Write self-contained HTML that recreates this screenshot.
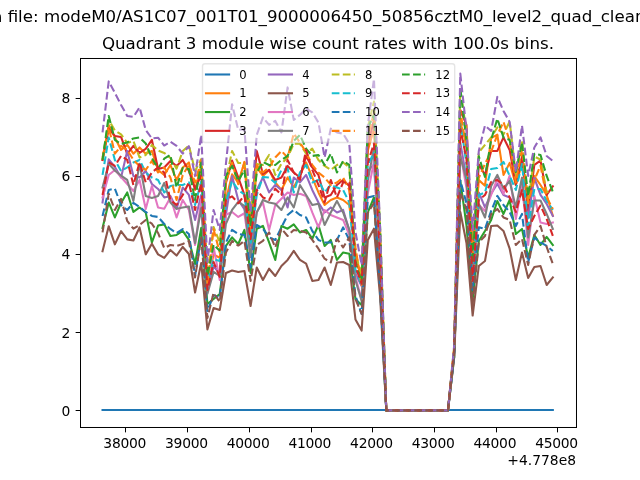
<!DOCTYPE html>
<html><head><meta charset="utf-8"><title>plot</title>
<style>html,body{margin:0;padding:0;background:#fff;overflow:hidden}svg{display:block;will-change:transform;opacity:0.999}svg *{stroke-linejoin:round;stroke-linecap:butt}</style>
</head><body>
<svg  width="640" height="480" viewBox="0 0 460.8 345.6"  version="1.1">
 
 
 <g id="figure_1">
  <g id="patch_1">
   <path d="M 0 345.6 
L 460.8 345.6 
L 460.8 0 
L 0 0 
z
" style="fill: #ffffff"/>
  </g>
  <g id="axes_1">
   <g id="patch_2">
    <path d="M 57.6 307.584 
L 414.72 307.584 
L 414.72 41.472 
L 57.6 41.472 
z
" style="fill: #ffffff"/>
   </g>
   <g id="matplotlib.axis_1">
    <g id="xtick_1">
     <g id="line2d_1">
      
      <g>
       <path d="M 0 0 L 0 3.5" transform="translate(90.3600 307.8000)" style="stroke: #000000; stroke-width: 0.72"/>
      </g>
     </g>
     <g id="text_1">
      <text style="font-size: 10px; font-family: 'DejaVu Sans', 'Liberation Sans', sans-serif; text-anchor: middle; letter-spacing: -0.2px" x="89.8041" y="322.9024">38000</text>
     </g>
    </g>
    <g id="xtick_2">
     <g id="line2d_2">
      <g>
       <path d="M 0 0 L 0 3.5" transform="translate(135.0000 307.8000)" style="stroke: #000000; stroke-width: 0.72"/>
      </g>
     </g>
     <g id="text_2">
      <text style="font-size: 10px; font-family: 'DejaVu Sans', 'Liberation Sans', sans-serif; text-anchor: middle; letter-spacing: -0.2px" x="134.2165" y="322.9024">39000</text>
     </g>
    </g>
    <g id="xtick_3">
     <g id="line2d_3">
      <g>
       <path d="M 0 0 L 0 3.5" transform="translate(179.6400 307.8000)" style="stroke: #000000; stroke-width: 0.72"/>
      </g>
     </g>
     <g id="text_3">
      <text style="font-size: 10px; font-family: 'DejaVu Sans', 'Liberation Sans', sans-serif; text-anchor: middle; letter-spacing: -0.2px" x="178.6289" y="322.9024">40000</text>
     </g>
    </g>
    <g id="xtick_4">
     <g id="line2d_4">
      <g>
       <path d="M 0 0 L 0 3.5" transform="translate(224.2800 307.8000)" style="stroke: #000000; stroke-width: 0.72"/>
      </g>
     </g>
     <g id="text_4">
      <text style="font-size: 10px; font-family: 'DejaVu Sans', 'Liberation Sans', sans-serif; text-anchor: middle; letter-spacing: -0.2px" x="223.0413" y="322.9024">41000</text>
     </g>
    </g>
    <g id="xtick_5">
     <g id="line2d_5">
      <g>
       <path d="M 0 0 L 0 3.5" transform="translate(268.2000 307.8000)" style="stroke: #000000; stroke-width: 0.72"/>
      </g>
     </g>
     <g id="text_5">
      <text style="font-size: 10px; font-family: 'DejaVu Sans', 'Liberation Sans', sans-serif; text-anchor: middle; letter-spacing: -0.2px" x="267.4537" y="322.9024">42000</text>
     </g>
    </g>
    <g id="xtick_6">
     <g id="line2d_6">
      <g>
       <path d="M 0 0 L 0 3.5" transform="translate(312.8400 307.8000)" style="stroke: #000000; stroke-width: 0.72"/>
      </g>
     </g>
     <g id="text_6">
      <text style="font-size: 10px; font-family: 'DejaVu Sans', 'Liberation Sans', sans-serif; text-anchor: middle; letter-spacing: -0.2px" x="311.8661" y="322.9024">43000</text>
     </g>
    </g>
    <g id="xtick_7">
     <g id="line2d_7">
      <g>
       <path d="M 0 0 L 0 3.5" transform="translate(357.4800 307.8000)" style="stroke: #000000; stroke-width: 0.72"/>
      </g>
     </g>
     <g id="text_7">
      <text style="font-size: 10px; font-family: 'DejaVu Sans', 'Liberation Sans', sans-serif; text-anchor: middle; letter-spacing: -0.2px" x="356.2785" y="322.9024">44000</text>
     </g>
    </g>
    <g id="xtick_8">
     <g id="line2d_8">
      <g>
       <path d="M 0 0 L 0 3.5" transform="translate(401.4000 307.8000)" style="stroke: #000000; stroke-width: 0.72"/>
      </g>
     </g>
     <g id="text_8">
      <text style="font-size: 10px; font-family: 'DejaVu Sans', 'Liberation Sans', sans-serif; text-anchor: middle; letter-spacing: -0.2px" x="400.6908" y="322.9024">45000</text>
     </g>
    </g>
    <g id="text_9">
     <text style="font-size: 10px; font-family: 'DejaVu Sans', 'Liberation Sans', sans-serif; text-anchor: end" x="414.72" y="334.860562">+4.778e8</text>
    </g>
   </g>
   <g id="matplotlib.axis_2">
    <g id="ytick_1">
     <g id="line2d_9">
      
      <g>
       <path d="M 0 0 L -3.5 0" transform="translate(57.9600 295.5600)" style="stroke: #000000; stroke-width: 0.72"/>
      </g>
     </g>
     <g id="text_10">
      <text style="font-size: 10px; font-family: 'DejaVu Sans', 'Liberation Sans', sans-serif; text-anchor: end" x="50.6" y="299.287219">0</text>
     </g>
    </g>
    <g id="ytick_2">
     <g id="line2d_10">
      <g>
       <path d="M 0 0 L -3.5 0" transform="translate(57.9600 239.4000)" style="stroke: #000000; stroke-width: 0.72"/>
      </g>
     </g>
     <g id="text_11">
      <text style="font-size: 10px; font-family: 'DejaVu Sans', 'Liberation Sans', sans-serif; text-anchor: end" x="50.6" y="243.026754">2</text>
     </g>
    </g>
    <g id="ytick_3">
     <g id="line2d_11">
      <g>
       <path d="M 0 0 L -3.5 0" transform="translate(57.9600 183.2400)" style="stroke: #000000; stroke-width: 0.72"/>
      </g>
     </g>
     <g id="text_12">
      <text style="font-size: 10px; font-family: 'DejaVu Sans', 'Liberation Sans', sans-serif; text-anchor: end" x="50.6" y="186.766289">4</text>
     </g>
    </g>
    <g id="ytick_4">
     <g id="line2d_12">
      <g>
       <path d="M 0 0 L -3.5 0" transform="translate(57.9600 127.0800)" style="stroke: #000000; stroke-width: 0.72"/>
      </g>
     </g>
     <g id="text_13">
      <text style="font-size: 10px; font-family: 'DejaVu Sans', 'Liberation Sans', sans-serif; text-anchor: end" x="50.6" y="130.505823">6</text>
     </g>
    </g>
    <g id="ytick_5">
     <g id="line2d_13">
      <g>
       <path d="M 0 0 L -3.5 0" transform="translate(57.9600 70.9200)" style="stroke: #000000; stroke-width: 0.72"/>
      </g>
     </g>
     <g id="text_14">
      <text style="font-size: 10px; font-family: 'DejaVu Sans', 'Liberation Sans', sans-serif; text-anchor: end" x="50.6" y="74.245358">8</text>
     </g>
    </g>
   </g>
   <g id="line2d_14">
    <path d="M 73.832727 295.201072 
L 78.273966 295.201072 
L 82.715205 295.201072 
L 87.156443 295.201072 
L 91.597682 295.201072 
L 96.038921 295.201072 
L 100.480159 295.201072 
L 104.921398 295.201072 
L 109.362636 295.201072 
L 113.803875 295.201072 
L 118.245114 295.201072 
L 122.686352 295.201072 
L 127.127591 295.201072 
L 131.56883 295.201072 
L 136.010068 295.201072 
L 140.451307 295.201072 
L 144.892546 295.201072 
L 149.333784 295.201072 
L 153.775023 295.201072 
L 158.216262 295.201072 
L 162.6575 295.201072 
L 167.098739 295.201072 
L 171.539978 295.201072 
L 175.981216 295.201072 
L 180.422455 295.201072 
L 184.863694 295.201072 
L 189.304932 295.201072 
L 193.746171 295.201072 
L 198.18741 295.201072 
L 202.628648 295.201072 
L 207.069887 295.201072 
L 211.511125 295.201072 
L 215.952364 295.201072 
L 220.393603 295.201072 
L 224.834841 295.201072 
L 229.27608 295.201072 
L 233.717319 295.201072 
L 238.158557 295.201072 
L 242.599796 295.201072 
L 247.041035 295.201072 
L 251.482273 295.201072 
L 255.923512 295.201072 
L 260.364751 295.201072 
L 264.805989 295.201072 
L 269.247228 295.201072 
L 273.688467 295.201072 
L 278.129705 295.201072 
L 282.570944 295.201072 
L 287.012183 295.201072 
L 291.453421 295.201072 
L 295.89466 295.201072 
L 300.335899 295.201072 
L 304.777137 295.201072 
L 309.218376 295.201072 
L 313.659614 295.201072 
L 318.100853 295.201072 
L 322.542092 295.201072 
L 326.98333 295.201072 
L 331.424569 295.201072 
L 335.865808 295.201072 
L 340.307046 295.201072 
L 344.748285 295.201072 
L 349.189524 295.201072 
L 353.630762 295.201072 
L 358.072001 295.201072 
L 362.51324 295.201072 
L 366.954478 295.201072 
L 371.395717 295.201072 
L 375.836956 295.201072 
L 380.278194 295.201072 
L 384.719433 295.201072 
L 389.160672 295.201072 
L 393.60191 295.201072 
L 398.043149 295.201072 
" clip-path="url(#p02d3b5d28d)" style="fill: none; stroke: #1f77b4; stroke-width: 1.5; stroke-linecap: square"/>
   </g>
   <g id="line2d_15">
    <path d="M 73.832727 115.153518 
L 78.273966 89.94883 
L 82.715205 98.950504 
L 87.156443 107.952179 
L 91.597682 104.351509 
L 96.038921 110.652681 
L 100.480159 106.151844 
L 104.921398 110.652681 
L 109.362636 108.672313 
L 113.803875 122.357671 
L 118.245114 125.95834 
L 122.686352 118.757001 
L 127.127591 129.55901 
L 131.56883 120.557336 
L 136.010068 116.956666 
L 140.451307 136.76035 
L 144.892546 119.176141 
L 149.333784 203.431814 
L 153.775023 183.251185 
L 158.216262 185.59162 
L 162.6575 143.972941 
L 167.098739 125.556078 
L 171.539978 131.525313 
L 175.981216 116.596599 
L 180.422455 176.37053 
L 184.863694 120.557336 
L 189.304932 126.678474 
L 193.746171 122.357671 
L 198.18741 131.359345 
L 202.628648 136.76035 
L 207.069887 127.758675 
L 211.511125 134.960015 
L 215.952364 125.95834 
L 220.393603 116.956666 
L 224.834841 127.758675 
L 229.27608 138.560685 
L 233.717319 147.562359 
L 238.158557 143.961689 
L 242.599796 142.161354 
L 247.041035 143.961689 
L 251.482273 147.562359 
L 255.923512 183.6 
L 260.364751 200.095568 
L 264.805989 108.509157 
L 269.247228 92.705593 
L 273.688467 172.910512 
L 278.129705 295.488 
L 282.570944 295.488 
L 287.012183 295.488 
L 291.453421 295.488 
L 295.89466 295.488 
L 300.335899 295.488 
L 304.777137 295.488 
L 309.218376 295.488 
L 313.659614 295.488 
L 318.100853 295.488 
L 322.542092 295.488 
L 326.98333 251.655472 
L 331.424569 88.103487 
L 335.865808 103.94362 
L 340.307046 185.909492 
L 344.748285 129.696848 
L 349.189524 133.713846 
L 353.630762 99.501857 
L 358.072001 96.995453 
L 362.51324 125.95834 
L 366.954478 117.316733 
L 371.395717 133.15968 
L 375.836956 117.924346 
L 380.278194 142.029142 
L 384.719433 126.80506 
L 389.160672 133.207501 
L 393.60191 140.400402 
L 398.043149 155.365686 
" clip-path="url(#p02d3b5d28d)" style="fill: none; stroke: #ff7f0e; stroke-width: 1.5; stroke-linecap: square"/>
   </g>
   <g id="line2d_16">
    <path d="M 73.832727 164.128253 
L 78.273966 145.762024 
L 82.715205 156.564033 
L 87.156443 146.122091 
L 91.597682 138.560685 
L 96.038921 152.603297 
L 100.480159 149.362694 
L 104.921398 152.963364 
L 109.362636 174.570195 
L 113.803875 162.398244 
L 118.245114 161.534646 
L 122.686352 169.889325 
L 127.127591 169.169191 
L 131.56883 166.288655 
L 136.010068 172.76986 
L 140.451307 190.053075 
L 144.892546 164.06074 
L 149.333784 218.861247 
L 153.775023 215.260577 
L 158.216262 211.659907 
L 162.6575 177.090664 
L 167.098739 170.969526 
L 171.539978 175.650396 
L 175.981216 165.568521 
L 180.422455 196.534281 
L 184.863694 164.668353 
L 189.304932 162.687985 
L 193.746171 174.570195 
L 198.18741 187.17254 
L 202.628648 162.687985 
L 207.069887 164.668353 
L 211.511125 161.607784 
L 215.952364 167.368856 
L 220.393603 165.568521 
L 224.834841 171.869693 
L 229.27608 161.967851 
L 233.717319 177.090664 
L 238.158557 172.76986 
L 242.599796 187.17254 
L 247.041035 181.771535 
L 251.482273 182.671702 
L 255.923512 215.401228 
L 260.364751 219.58138 
L 264.805989 152.963364 
L 269.247228 142.161354 
L 273.688467 207.145005 
L 278.129705 295.488 
L 282.570944 295.488 
L 287.012183 295.488 
L 291.453421 295.488 
L 295.89466 295.488 
L 300.335899 295.488 
L 304.777137 295.488 
L 309.218376 295.488 
L 313.659614 295.488 
L 318.100853 295.488 
L 322.542092 295.488 
L 326.98333 257.076167 
L 331.424569 130.073793 
L 335.865808 162.294162 
L 340.307046 215.342154 
L 344.748285 173.489994 
L 349.189524 166.288655 
L 353.630762 158.364368 
L 358.072001 144.681823 
L 362.51324 154.043565 
L 366.954478 143.961689 
L 371.395717 168.449057 
L 375.836956 164.848387 
L 380.278194 185.372205 
L 384.719433 169.169191 
L 389.160672 176.37053 
L 393.60191 170.609459 
L 398.043149 176.37053 
" clip-path="url(#p02d3b5d28d)" style="fill: none; stroke: #2ca02c; stroke-width: 1.5; stroke-linecap: square"/>
   </g>
   <g id="line2d_17">
    <path d="M 73.832727 115.153518 
L 78.273966 92.649332 
L 82.715205 97.870303 
L 87.156443 98.590437 
L 91.597682 110.832714 
L 96.038921 105.071643 
L 100.480159 110.11258 
L 104.921398 107.232045 
L 109.362636 100.750839 
L 113.803875 121.637537 
L 118.245114 120.557336 
L 122.686352 115.876465 
L 127.127591 119.477135 
L 131.56883 115.153518 
L 136.010068 123.077805 
L 140.451307 136.040216 
L 144.892546 125.95834 
L 149.333784 205.192767 
L 153.775023 191.493343 
L 158.216262 196.534281 
L 162.6575 131.677217 
L 167.098739 115.586724 
L 171.539978 127.758675 
L 175.981216 140.36102 
L 180.422455 159.979044 
L 184.863694 108.672313 
L 189.304932 125.238207 
L 193.746171 122.357671 
L 198.18741 129.55901 
L 202.628648 127.758675 
L 207.069887 119.477135 
L 211.511125 124.158006 
L 215.952364 127.758675 
L 220.393603 112.272982 
L 224.834841 120.557336 
L 229.27608 125.95834 
L 233.717319 142.161354 
L 238.158557 140.36102 
L 242.599796 133.15968 
L 247.041035 129.55901 
L 251.482273 133.879814 
L 255.923512 187.794218 
L 260.364751 198.230534 
L 264.805989 104.205232 
L 269.247228 86.564763 
L 273.688467 176.913444 
L 278.129705 295.488 
L 282.570944 295.488 
L 287.012183 295.488 
L 291.453421 295.488 
L 295.89466 295.488 
L 300.335899 295.488 
L 304.777137 295.488 
L 309.218376 295.488 
L 313.659614 295.488 
L 318.100853 295.488 
L 322.542092 295.488 
L 326.98333 252.791933 
L 331.424569 79.14682 
L 335.865808 89.94883 
L 340.307046 183.740651 
L 344.748285 118.326608 
L 349.189524 125.95834 
L 353.630762 108.672313 
L 358.072001 108.672313 
L 362.51324 98.950504 
L 366.954478 107.952179 
L 371.395717 133.15968 
L 375.836956 112.711814 
L 380.278194 152.181343 
L 384.719433 118.757001 
L 389.160672 115.586724 
L 393.60191 140.36102 
L 398.043149 134.177994 
" clip-path="url(#p02d3b5d28d)" style="fill: none; stroke: #d62728; stroke-width: 1.5; stroke-linecap: square"/>
   </g>
   <g id="line2d_18">
    <path d="M 73.832727 145.762024 
L 78.273966 114.723126 
L 82.715205 120.197269 
L 87.156443 127.758675 
L 91.597682 108.672313 
L 96.038921 126.678474 
L 100.480159 127.758675 
L 104.921398 123.077805 
L 109.362636 132.439546 
L 113.803875 136.040216 
L 118.245114 142.161354 
L 122.686352 141.081153 
L 127.127591 150.442895 
L 131.56883 134.960015 
L 136.010068 140.36102 
L 140.451307 158.364368 
L 144.892546 140.349767 
L 149.333784 209.164755 
L 153.775023 191.738076 
L 158.216262 196.708688 
L 162.6575 154.558348 
L 167.098739 126.678474 
L 171.539978 143.961689 
L 175.981216 150.690441 
L 180.422455 177.357901 
L 184.863694 136.76035 
L 189.304932 127.758675 
L 193.746171 138.560685 
L 198.18741 133.15968 
L 202.628648 136.76035 
L 207.069887 149.362694 
L 211.511125 127.758675 
L 215.952364 131.359345 
L 220.393603 125.95834 
L 224.834841 136.76035 
L 229.27608 145.762024 
L 233.717319 152.963364 
L 238.158557 149.362694 
L 242.599796 152.963364 
L 247.041035 151.163029 
L 251.482273 165.568521 
L 255.923512 196.942169 
L 260.364751 205.862266 
L 264.805989 122.911836 
L 269.247228 118.610724 
L 273.688467 185.434091 
L 278.129705 295.488 
L 282.570944 295.488 
L 287.012183 295.488 
L 291.453421 295.488 
L 295.89466 295.488 
L 300.335899 295.488 
L 304.777137 295.488 
L 309.218376 295.488 
L 313.659614 295.488 
L 318.100853 295.488 
L 322.542092 295.488 
L 326.98333 253.213887 
L 331.424569 102.680573 
L 335.865808 128.487248 
L 340.307046 199.462638 
L 344.748285 138.560685 
L 349.189524 149.362694 
L 353.630762 139.460852 
L 358.072001 132.259513 
L 362.51324 140.36102 
L 366.954478 142.161354 
L 371.395717 148.960432 
L 375.836956 136.636577 
L 380.278194 156.738441 
L 384.719433 128.118742 
L 389.160672 140.36102 
L 393.60191 146.842225 
L 398.043149 155.483833 
" clip-path="url(#p02d3b5d28d)" style="fill: none; stroke: #9467bd; stroke-width: 1.5; stroke-linecap: square"/>
   </g>
   <g id="line2d_19">
    <path d="M 73.832727 180.871367 
L 78.273966 162.868019 
L 82.715205 175.937325 
L 87.156443 166.468688 
L 91.597682 172.336655 
L 96.038921 173.200253 
L 100.480159 163.768186 
L 104.921398 183.138664 
L 109.362636 175.470363 
L 113.803875 183.138664 
L 118.245114 185.732272 
L 122.686352 179.9712 
L 127.127591 184.005075 
L 131.56883 177.810798 
L 136.010068 182.851736 
L 140.451307 210.579706 
L 144.892546 189.332941 
L 149.333784 237.224662 
L 153.775023 221.741782 
L 158.216262 223.18205 
L 162.6575 196.534281 
L 167.098739 194.733946 
L 171.539978 195.814147 
L 175.981216 195.094013 
L 180.422455 220.301514 
L 184.863694 192.573544 
L 189.304932 201.575219 
L 193.746171 193.473712 
L 198.18741 198.694683 
L 202.628648 191.493343 
L 207.069887 187.17254 
L 211.511125 180.691334 
L 215.952364 187.17254 
L 220.393603 189.873042 
L 224.834841 202.295353 
L 229.27608 201.575219 
L 233.717319 192.573544 
L 238.158557 205.178701 
L 242.599796 188.972874 
L 247.041035 188.612807 
L 251.482273 190.773209 
L 255.923512 229.952997 
L 260.364751 238.017935 
L 264.805989 172.76986 
L 269.247228 164.668353 
L 273.688467 213.820309 
L 278.129705 295.488 
L 282.570944 295.488 
L 287.012183 295.488 
L 291.453421 295.488 
L 295.89466 295.488 
L 300.335899 295.488 
L 304.777137 295.488 
L 309.218376 295.488 
L 313.659614 295.488 
L 318.100853 295.488 
L 322.542092 295.488 
L 326.98333 257.697846 
L 331.424569 152.603297 
L 335.865808 174.930262 
L 340.307046 227.215926 
L 344.748285 191.493343 
L 349.189524 187.892673 
L 353.630762 162.687985 
L 358.072001 162.398244 
L 362.51324 166.288655 
L 366.954478 179.071033 
L 371.395717 201.575219 
L 375.836956 181.771535 
L 380.278194 200.134951 
L 384.719433 192.213477 
L 389.160672 191.493343 
L 393.60191 205.178701 
L 398.043149 199.774884 
" clip-path="url(#p02d3b5d28d)" style="fill: none; stroke: #8c564b; stroke-width: 1.5; stroke-linecap: square"/>
   </g>
   <g id="line2d_20">
    <path d="M 73.832727 142.161354 
L 78.273966 125.95834 
L 82.715205 122.357671 
L 87.156443 127.398608 
L 91.597682 132.439546 
L 96.038921 137.480484 
L 100.480159 129.55901 
L 104.921398 150.442895 
L 109.362636 133.879814 
L 113.803875 149.362694 
L 118.245114 150.262861 
L 122.686352 142.161354 
L 127.127591 156.564033 
L 131.56883 143.961689 
L 136.010068 151.163029 
L 140.451307 176.37053 
L 144.892546 143.624127 
L 149.333784 206.618969 
L 153.775023 177.810798 
L 158.216262 201.575219 
L 162.6575 154.620234 
L 167.098739 152.603297 
L 171.539978 156.203967 
L 175.981216 153.54566 
L 180.422455 184.674575 
L 184.863694 152.603297 
L 189.304932 145.762024 
L 193.746171 165.568521 
L 198.18741 147.562359 
L 202.628648 143.061522 
L 207.069887 138.560685 
L 211.511125 140.36102 
L 215.952364 139.460852 
L 220.393603 141.081153 
L 224.834841 152.963364 
L 229.27608 163.768186 
L 233.717319 151.163029 
L 238.158557 154.763699 
L 242.599796 156.564033 
L 247.041035 158.364368 
L 251.482273 169.169191 
L 255.923512 199.499207 
L 260.364751 215.550318 
L 264.805989 139.612755 
L 269.247228 116.019929 
L 273.688467 187.836413 
L 278.129705 295.488 
L 282.570944 295.488 
L 287.012183 295.488 
L 291.453421 295.488 
L 295.89466 295.488 
L 300.335899 295.488 
L 304.777137 295.488 
L 309.218376 295.488 
L 313.659614 295.488 
L 318.100853 295.488 
L 322.542092 295.488 
L 326.98333 254.569764 
L 331.424569 110.154776 
L 335.865808 135.201935 
L 340.307046 202.253157 
L 344.748285 147.396391 
L 349.189524 151.883163 
L 353.630762 140.36102 
L 358.072001 128.838876 
L 362.51324 139.640886 
L 366.954478 126.388733 
L 371.395717 157.644234 
L 375.836956 133.15968 
L 380.278194 176.37053 
L 384.719433 141.081153 
L 389.160672 160.167516 
L 393.60191 161.247717 
L 398.043149 160.167516 
" clip-path="url(#p02d3b5d28d)" style="fill: none; stroke: #e377c2; stroke-width: 1.5; stroke-linecap: square"/>
   </g>
   <g id="line2d_21">
    <path d="M 73.832727 134.960015 
L 78.273966 117.856833 
L 82.715205 122.788063 
L 87.156443 126.388733 
L 91.597682 129.55901 
L 96.038921 144.681823 
L 100.480159 117.856833 
L 104.921398 141.081153 
L 109.362636 142.521421 
L 113.803875 141.081153 
L 118.245114 131.719412 
L 122.686352 145.762024 
L 127.127591 150.262861 
L 131.56883 149.362694 
L 136.010068 148.64256 
L 140.451307 174.930262 
L 144.892546 149.722761 
L 149.333784 211.516443 
L 153.775023 195.780391 
L 158.216262 198.669366 
L 162.6575 161.247717 
L 167.098739 151.163029 
L 171.539978 145.401957 
L 175.981216 148.282493 
L 180.422455 185.251245 
L 184.863694 152.963364 
L 189.304932 143.961689 
L 193.746171 145.762024 
L 198.18741 146.662192 
L 202.628648 151.163029 
L 207.069887 142.161354 
L 211.511125 149.362694 
L 215.952364 133.15968 
L 220.393603 140.36102 
L 224.834841 147.562359 
L 229.27608 146.662192 
L 233.717319 161.967851 
L 238.158557 152.963364 
L 242.599796 144.681823 
L 247.041035 152.963364 
L 251.482273 165.568521 
L 255.923512 201.80026 
L 260.364751 216.616454 
L 264.805989 130.04285 
L 269.247228 106.621619 
L 273.688467 187.169727 
L 278.129705 295.488 
L 282.570944 295.488 
L 287.012183 295.488 
L 291.453421 295.488 
L 295.89466 295.488 
L 300.335899 295.488 
L 304.777137 295.488 
L 309.218376 295.488 
L 313.659614 295.488 
L 318.100853 295.488 
L 322.542092 295.488 
L 326.98333 254.083111 
L 331.424569 112.287047 
L 335.865808 129.339594 
L 340.307046 199.020993 
L 344.748285 146.842225 
L 349.189524 156.564033 
L 353.630762 133.879814 
L 358.072001 125.95834 
L 362.51324 135.860182 
L 366.954478 130.279144 
L 371.395717 149.362694 
L 375.836956 127.758675 
L 380.278194 170.969526 
L 384.719433 144.394895 
L 389.160672 144.394895 
L 393.60191 154.043565 
L 398.043149 164.848387 
" clip-path="url(#p02d3b5d28d)" style="fill: none; stroke: #7f7f7f; stroke-width: 1.5; stroke-linecap: square"/>
   </g>
   <g id="line2d_22">
    <path d="M 73.832727 114.740004 
L 78.273966 86.34816 
L 82.715205 93.982705 
L 87.156443 96.716964 
L 91.597682 102.911241 
L 96.038921 101.470973 
L 100.480159 113.353183 
L 104.921398 111.552848 
L 109.362636 104.351509 
L 113.803875 108.385384 
L 118.245114 110.11258 
L 122.686352 113.71325 
L 127.127591 121.457503 
L 131.56883 108.672313 
L 136.010068 104.784714 
L 140.451307 123.077805 
L 144.892546 114.543092 
L 149.333784 198.027996 
L 153.775023 163.408119 
L 158.216262 174.637708 
L 162.6575 129.789678 
L 167.098739 108.672313 
L 171.539978 117.316733 
L 175.981216 117.316733 
L 180.422455 153.41626 
L 184.863694 118.036867 
L 189.304932 118.757001 
L 193.746171 111.552848 
L 198.18741 125.95834 
L 202.628648 117.856833 
L 207.069887 113.353183 
L 211.511125 103.451341 
L 215.952364 103.451341 
L 220.393603 110.652681 
L 224.834841 107.052011 
L 229.27608 115.153518 
L 233.717319 119.477135 
L 238.158557 122.357671 
L 242.599796 118.757001 
L 247.041035 116.956666 
L 251.482273 120.557336 
L 255.923512 182.742028 
L 260.364751 197.56666 
L 264.805989 91.746352 
L 269.247228 73.171959 
L 273.688467 165.067803 
L 278.129705 295.488 
L 282.570944 295.488 
L 287.012183 295.488 
L 291.453421 295.488 
L 295.89466 295.488 
L 300.335899 295.488 
L 304.777137 295.488 
L 309.218376 295.488 
L 313.659614 295.488 
L 318.100853 295.488 
L 322.542092 295.488 
L 326.98333 250.215204 
L 331.424569 64.741328 
L 335.865808 94.944759 
L 340.307046 181.349581 
L 344.748285 109.752513 
L 349.189524 104.351509 
L 353.630762 98.950504 
L 358.072001 91.749165 
L 362.51324 96.759159 
L 366.954478 87.473369 
L 371.395717 126.025853 
L 375.836956 100.750839 
L 380.278194 146.254303 
L 384.719433 112.801831 
L 389.160672 114.804703 
L 393.60191 138.560685 
L 398.043149 135.657645 
" clip-path="url(#p02d3b5d28d)" style="fill: none; stroke-dasharray: 5.55,2.4; stroke-dashoffset: 0; stroke: #bcbd22; stroke-width: 1.5"/>
   </g>
   <g id="line2d_23">
    <path d="M 73.832727 125.95834 
L 78.273966 98.950504 
L 82.715205 115.153518 
L 87.156443 123.077805 
L 91.597682 120.557336 
L 96.038921 116.956666 
L 100.480159 115.153518 
L 104.921398 124.158006 
L 109.362636 127.758675 
L 113.803875 129.55901 
L 118.245114 138.560685 
L 122.686352 133.879814 
L 127.127591 133.15968 
L 131.56883 133.15968 
L 136.010068 131.359345 
L 140.451307 147.562359 
L 144.892546 130.717976 
L 149.333784 203.862207 
L 153.775023 186.621187 
L 158.216262 187.977064 
L 162.6575 145.387892 
L 167.098739 130.279144 
L 171.539978 136.76035 
L 175.981216 140.060026 
L 180.422455 175.658835 
L 184.863694 140.36102 
L 189.304932 127.398608 
L 193.746171 127.758675 
L 198.18741 131.719412 
L 202.628648 122.357671 
L 207.069887 121.457503 
L 211.511125 138.560685 
L 215.952364 124.158006 
L 220.393603 118.757001 
L 224.834841 131.359345 
L 229.27608 129.55901 
L 233.717319 138.560685 
L 238.158557 133.15968 
L 242.599796 134.960015 
L 247.041035 136.76035 
L 251.482273 145.762024 
L 255.923512 194.109455 
L 260.364751 205.417808 
L 264.805989 118.67261 
L 269.247228 109.969116 
L 273.688467 179.66458 
L 278.129705 295.488 
L 282.570944 295.488 
L 287.012183 295.488 
L 291.453421 295.488 
L 295.89466 295.488 
L 300.335899 295.488 
L 304.777137 295.488 
L 309.218376 295.488 
L 313.659614 295.488 
L 318.100853 295.488 
L 322.542092 295.488 
L 326.98333 253.818687 
L 331.424569 86.933269 
L 335.865808 118.30973 
L 340.307046 189.01507 
L 344.748285 140.400402 
L 349.189524 138.642262 
L 353.630762 121.637537 
L 358.072001 120.917403 
L 362.51324 116.596599 
L 366.954478 126.678474 
L 371.395717 136.76035 
L 375.836956 118.036867 
L 380.278194 162.82301 
L 384.719433 136.093663 
L 389.160672 136.040216 
L 393.60191 144.681823 
L 398.043149 151.163029 
" clip-path="url(#p02d3b5d28d)" style="fill: none; stroke-dasharray: 5.55,2.4; stroke-dashoffset: 0; stroke: #17becf; stroke-width: 1.5"/>
   </g>
   <g id="line2d_24">
    <path d="M 73.832727 155.483833 
L 78.273966 136.76035 
L 82.715205 135.860182 
L 87.156443 147.562359 
L 91.597682 151.163029 
L 96.038921 146.122091 
L 100.480159 149.002627 
L 104.921398 152.603297 
L 109.362636 155.483833 
L 113.803875 156.203967 
L 118.245114 161.247717 
L 122.686352 164.848387 
L 127.127591 167.728923 
L 131.56883 164.989038 
L 136.010068 168.449057 
L 140.451307 198.694683 
L 144.892546 169.889325 
L 149.333784 223.902184 
L 153.775023 212.380041 
L 158.216262 214.610768 
L 162.6575 174.570195 
L 167.098739 165.568521 
L 171.539978 168.449057 
L 175.981216 169.169191 
L 180.422455 192.573544 
L 184.863694 161.967851 
L 189.304932 164.668353 
L 193.746171 170.969526 
L 198.18741 172.76986 
L 202.628648 163.768186 
L 207.069887 154.763699 
L 211.511125 151.163029 
L 215.952364 154.763699 
L 220.393603 156.564033 
L 224.834841 166.288655 
L 229.27608 172.76986 
L 233.717319 174.570195 
L 238.158557 174.570195 
L 242.599796 172.76986 
L 247.041035 163.768186 
L 251.482273 172.76986 
L 255.923512 213.041101 
L 260.364751 226.062586 
L 264.805989 142.161354 
L 269.247228 141.081153 
L 273.688467 207.952342 
L 278.129705 295.488 
L 282.570944 295.488 
L 287.012183 295.488 
L 291.453421 295.488 
L 295.89466 295.488 
L 300.335899 295.488 
L 304.777137 295.488 
L 309.218376 295.488 
L 313.659614 295.488 
L 318.100853 295.488 
L 322.542092 295.488 
L 326.98333 256.890508 
L 331.424569 129.806556 
L 335.865808 146.406207 
L 340.307046 208.779371 
L 344.748285 163.6416 
L 349.189524 164.848387 
L 353.630762 151.883163 
L 358.072001 141.081153 
L 362.51324 147.562359 
L 366.954478 152.603297 
L 371.395717 162.687985 
L 375.836956 154.043565 
L 380.278194 188.972874 
L 384.719433 170.969526 
L 389.160672 174.570195 
L 393.60191 177.090664 
L 398.043149 180.691334 
" clip-path="url(#p02d3b5d28d)" style="fill: none; stroke-dasharray: 5.55,2.4; stroke-dashoffset: 0; stroke: #1f77b4; stroke-width: 1.5"/>
   </g>
   <g id="line2d_25">
    <path d="M 73.832727 113.353183 
L 78.273966 91.749165 
L 82.715205 110.652681 
L 87.156443 105.071643 
L 91.597682 107.952179 
L 96.038921 115.153518 
L 100.480159 119.477135 
L 104.921398 122.357671 
L 109.362636 115.876465 
L 113.803875 124.158006 
L 118.245114 120.557336 
L 122.686352 127.758675 
L 127.127591 143.961689 
L 131.56883 125.95834 
L 136.010068 118.757001 
L 140.451307 131.359345 
L 144.892546 115.477016 
L 149.333784 205.55002 
L 153.775023 164.848387 
L 158.216262 181.920625 
L 162.6575 131.249637 
L 167.098739 117.131073 
L 171.539978 132.673027 
L 175.981216 116.956666 
L 180.422455 164.465816 
L 184.863694 118.757001 
L 189.304932 124.158006 
L 193.746171 120.557336 
L 198.18741 113.353183 
L 202.628648 108.672313 
L 207.069887 113.353183 
L 211.511125 96.250002 
L 215.952364 102.551174 
L 220.393603 109.752513 
L 224.834841 118.757001 
L 229.27608 124.158006 
L 233.717319 127.758675 
L 238.158557 133.15968 
L 242.599796 131.359345 
L 247.041035 127.758675 
L 251.482273 136.76035 
L 255.923512 177.959888 
L 260.364751 205.898835 
L 264.805989 98.759219 
L 269.247228 81.4535 
L 273.688467 175.43942 
L 278.129705 295.488 
L 282.570944 295.488 
L 287.012183 295.488 
L 291.453421 295.488 
L 295.89466 295.488 
L 300.335899 295.488 
L 304.777137 295.488 
L 309.218376 295.488 
L 313.659614 295.488 
L 318.100853 295.488 
L 322.542092 295.488 
L 326.98333 251.995847 
L 331.424569 80.097622 
L 335.865808 107.215167 
L 340.307046 183.363706 
L 344.748285 128.059669 
L 349.189524 117.893403 
L 353.630762 109.11677 
L 358.072001 97.150169 
L 362.51324 87.788428 
L 366.954478 101.470973 
L 371.395717 131.435297 
L 375.836956 107.282679 
L 380.278194 145.694512 
L 384.719433 129.668718 
L 389.160672 119.198646 
L 393.60191 142.161354 
L 398.043149 150.442895 
" clip-path="url(#p02d3b5d28d)" style="fill: none; stroke-dasharray: 5.55,2.4; stroke-dashoffset: 0; stroke: #ff7f0e; stroke-width: 1.5"/>
   </g>
   <g id="line2d_26">
    <path d="M 73.832727 115.153518 
L 78.273966 83.467624 
L 82.715205 100.750839 
L 87.156443 103.631375 
L 91.597682 102.551174 
L 96.038921 99.670638 
L 100.480159 98.950504 
L 104.921398 103.271308 
L 109.362636 113.71325 
L 113.803875 121.457503 
L 118.245114 114.253351 
L 122.686352 111.552848 
L 127.127591 134.960015 
L 131.56883 120.917403 
L 136.010068 121.637537 
L 140.451307 143.961689 
L 144.892546 116.956666 
L 149.333784 198.84096 
L 153.775023 176.198936 
L 158.216262 180.578813 
L 162.6575 126.585645 
L 167.098739 119.477135 
L 171.539978 130.279144 
L 175.981216 122.357671 
L 180.422455 162.046616 
L 184.863694 124.158006 
L 189.304932 116.596599 
L 193.746171 118.757001 
L 198.18741 118.757001 
L 202.628648 115.153518 
L 207.069887 112.272982 
L 211.511125 101.470973 
L 215.952364 97.150169 
L 220.393603 107.052011 
L 224.834841 112.272982 
L 229.27608 111.552848 
L 233.717319 118.757001 
L 238.158557 110.652681 
L 242.599796 124.158006 
L 247.041035 115.876465 
L 251.482273 118.757001 
L 255.923512 189.7127 
L 260.364751 202.784819 
L 264.805989 91.816677 
L 269.247228 83.042858 
L 273.688467 164.142318 
L 278.129705 295.488 
L 282.570944 295.488 
L 287.012183 295.488 
L 291.453421 295.488 
L 295.89466 295.488 
L 300.335899 295.488 
L 304.777137 295.488 
L 309.218376 295.488 
L 313.659614 295.488 
L 318.100853 295.488 
L 322.542092 295.488 
L 326.98333 251.219453 
L 331.424569 63.073206 
L 335.865808 101.729771 
L 340.307046 189.293559 
L 344.748285 112.53178 
L 349.189524 127.392982 
L 353.630762 100.750839 
L 358.072001 85.447993 
L 362.51324 98.950504 
L 366.954478 100.750839 
L 371.395717 123.797939 
L 375.836956 102.551174 
L 380.278194 141.106471 
L 384.719433 110.652681 
L 389.160672 111.552848 
L 393.60191 126.678474 
L 398.043149 138.200618 
" clip-path="url(#p02d3b5d28d)" style="fill: none; stroke-dasharray: 5.55,2.4; stroke-dashoffset: 0; stroke: #2ca02c; stroke-width: 1.5"/>
   </g>
   <g id="line2d_27">
    <path d="M 73.832727 140.36102 
L 78.273966 116.956666 
L 82.715205 119.477135 
L 87.156443 112.272982 
L 91.597682 115.153518 
L 96.038921 133.15968 
L 100.480159 116.956666 
L 104.921398 131.359345 
L 109.362636 124.158006 
L 113.803875 120.557336 
L 118.245114 124.158006 
L 122.686352 143.961689 
L 127.127591 147.562359 
L 131.56883 140.36102 
L 136.010068 131.359345 
L 140.451307 151.163029 
L 144.892546 131.730664 
L 149.333784 208.779371 
L 153.775023 188.635312 
L 158.216262 199.305109 
L 162.6575 143.641005 
L 167.098739 141.345578 
L 171.539978 146.403393 
L 175.981216 140.549492 
L 180.422455 172.181939 
L 184.863694 136.76035 
L 189.304932 142.161354 
L 193.746171 143.961689 
L 198.18741 135.860182 
L 202.628648 140.36102 
L 207.069887 115.153518 
L 211.511125 124.158006 
L 215.952364 129.55901 
L 220.393603 107.952179 
L 224.834841 122.357671 
L 229.27608 133.15968 
L 233.717319 145.762024 
L 238.158557 129.55901 
L 242.599796 142.161354 
L 247.041035 131.359345 
L 251.482273 131.359345 
L 255.923512 192.0672 
L 260.364751 204.247591 
L 264.805989 117.389872 
L 269.247228 103.276934 
L 273.688467 185.889801 
L 278.129705 295.488 
L 282.570944 295.488 
L 287.012183 295.488 
L 291.453421 295.488 
L 295.89466 295.488 
L 300.335899 295.488 
L 304.777137 295.488 
L 309.218376 295.488 
L 313.659614 295.488 
L 318.100853 295.488 
L 322.542092 295.488 
L 326.98333 251.84957 
L 331.424569 92.837805 
L 335.865808 114.230847 
L 340.307046 202.295353 
L 344.748285 143.961689 
L 349.189524 140.36102 
L 353.630762 130.999278 
L 358.072001 129.55901 
L 362.51324 133.15968 
L 366.954478 142.161354 
L 371.395717 152.603297 
L 375.836956 136.76035 
L 380.278194 164.848387 
L 384.719433 155.483833 
L 389.160672 147.995565 
L 393.60191 157.644234 
L 398.043149 169.889325 
" clip-path="url(#p02d3b5d28d)" style="fill: none; stroke-dasharray: 5.55,2.4; stroke-dashoffset: 0; stroke: #d62728; stroke-width: 1.5"/>
   </g>
   <g id="line2d_28">
    <path d="M 73.832727 95.349834 
L 78.273966 58.62019 
L 82.715205 66.90173 
L 87.156443 75.546151 
L 91.597682 83.467624 
L 96.038921 84.187758 
L 100.480159 77.346486 
L 104.921398 93.5495 
L 109.362636 99.670638 
L 113.803875 99.130538 
L 118.245114 104.784714 
L 122.686352 102.120781 
L 127.127591 105.071643 
L 131.56883 110.652681 
L 136.010068 105.251676 
L 140.451307 126.678474 
L 144.892546 97.150169 
L 149.333784 188.612807 
L 153.775023 151.163029 
L 158.216262 165.568521 
L 162.6575 118.036867 
L 167.098739 75.112945 
L 171.539978 93.5495 
L 175.981216 93.116294 
L 180.422455 152.603297 
L 184.863694 97.150169 
L 189.304932 84.547825 
L 193.746171 89.94883 
L 198.18741 87.068294 
L 202.628648 95.349834 
L 207.069887 62.940993 
L 211.511125 86.34816 
L 215.952364 82.74749 
L 220.393603 78.246653 
L 224.834841 80.947155 
L 229.27608 88.148495 
L 233.717319 113.353183 
L 238.158557 92.649332 
L 242.599796 95.349834 
L 247.041035 96.250002 
L 251.482273 103.451341 
L 255.923512 167.008789 
L 260.364751 190.773209 
L 264.805989 90.668964 
L 269.247228 56.819855 
L 273.688467 164.128253 
L 278.129705 295.488 
L 282.570944 295.488 
L 287.012183 295.488 
L 291.453421 295.488 
L 295.89466 295.488 
L 300.335899 295.488 
L 304.777137 295.488 
L 309.218376 295.488 
L 313.659614 295.488 
L 318.100853 295.488 
L 322.542092 295.488 
L 326.98333 248.980287 
L 331.424569 53.039152 
L 335.865808 93.5495 
L 340.307046 165.568521 
L 344.748285 108.672313 
L 349.189524 90.308897 
L 353.630762 94.269633 
L 358.072001 69.782266 
L 362.51324 79.866954 
L 366.954478 87.788428 
L 371.395717 123.797939 
L 375.836956 90.382035 
L 380.278194 126.678474 
L 384.719433 106.151844 
L 389.160672 98.950504 
L 393.60191 112.272982 
L 398.043149 115.876465 
" clip-path="url(#p02d3b5d28d)" style="fill: none; stroke-dasharray: 5.55,2.4; stroke-dashoffset: 0; stroke: #9467bd; stroke-width: 1.5"/>
   </g>
   <g id="line2d_29">
    <path d="M 73.832727 167.368856 
L 78.273966 139.460852 
L 82.715205 151.163029 
L 87.156443 143.241555 
L 91.597682 159.084502 
L 96.038921 164.668353 
L 100.480159 161.967851 
L 104.921398 158.364368 
L 109.362636 161.067684 
L 113.803875 167.728923 
L 118.245114 178.530932 
L 122.686352 176.37053 
L 127.127591 177.090664 
L 131.56883 175.650396 
L 136.010068 173.489994 
L 140.451307 199.774884 
L 144.892546 170.969526 
L 149.333784 228.943122 
L 153.775023 210.939773 
L 158.216262 217.420979 
L 162.6575 181.771535 
L 167.098739 173.489994 
L 171.539978 176.800923 
L 175.981216 173.489994 
L 180.422455 202.295353 
L 184.863694 176.37053 
L 189.304932 173.489994 
L 193.746171 167.368856 
L 198.18741 178.170865 
L 202.628648 164.668353 
L 207.069887 169.889325 
L 211.511125 165.568521 
L 215.952364 166.288655 
L 220.393603 167.368856 
L 224.834841 172.76986 
L 229.27608 179.071033 
L 233.717319 186.272372 
L 238.158557 188.972874 
L 242.599796 171.869693 
L 247.041035 178.170865 
L 251.482273 170.969526 
L 255.923512 215.260577 
L 260.364751 226.062586 
L 264.805989 153.323431 
L 269.247228 146.122091 
L 273.688467 207.949529 
L 278.129705 295.488 
L 282.570944 295.488 
L 287.012183 295.488 
L 291.453421 295.488 
L 295.89466 295.488 
L 300.335899 295.488 
L 304.777137 295.488 
L 309.218376 295.488 
L 313.659614 295.488 
L 318.100853 295.488 
L 322.542092 295.488 
L 326.98333 255.703412 
L 331.424569 138.318765 
L 335.865808 150.901418 
L 340.307046 218.861247 
L 344.748285 174.570195 
L 349.189524 169.889325 
L 353.630762 154.043565 
L 358.072001 150.442895 
L 362.51324 156.564033 
L 366.954478 158.364368 
L 371.395717 176.37053 
L 375.836956 172.049727 
L 380.278194 190.773209 
L 384.719433 169.169191 
L 389.160672 162.687985 
L 393.60191 177.810798 
L 398.043149 190.053075 
" clip-path="url(#p02d3b5d28d)" style="fill: none; stroke-dasharray: 5.55,2.4; stroke-dashoffset: 0; stroke: #8c564b; stroke-width: 1.5"/>
   </g>
   <g id="patch_3">
    <path d="M 57.960 307.800 L 57.960 42.120" style="fill: none; stroke: #000000; stroke-width: 0.72; stroke-linejoin: miter; stroke-linecap: square"/>
   </g>
   <g id="patch_4">
    <path d="M 415.080 307.800 L 415.080 42.120" style="fill: none; stroke: #000000; stroke-width: 0.72; stroke-linejoin: miter; stroke-linecap: square"/>
   </g>
   <g id="patch_5">
    <path d="M 57.960 307.800 L 415.080 307.800" style="fill: none; stroke: #000000; stroke-width: 0.72; stroke-linejoin: miter; stroke-linecap: square"/>
   </g>
   <g id="patch_6">
    <path d="M 57.960 42.120 L 415.080 42.120" style="fill: none; stroke: #000000; stroke-width: 0.72; stroke-linejoin: miter; stroke-linecap: square"/>
   </g>
   <g id="text_15">
    <text style="font-size: 12px; font-family: 'DejaVu Sans', 'Liberation Sans', sans-serif; text-anchor: middle" x="236.16" y="35.472">Quadrant 3 module wise count rates with 100.0s bins.</text>
   </g>
   <g id="legend_1">
    <g id="patch_7">
     <path d="M 147.600 102.600 L 325.584 102.600 Q 327.384 102.600 327.384 100.800 L 327.384 47.700 Q 327.384 45.900 325.584 45.900 L 147.600 45.900 Q 145.800 45.900 145.800 47.700 L 145.800 100.800 Q 145.800 102.600 147.600 102.600 z" style="fill: #ffffff; opacity: 0.5; stroke: #cccccc; stroke-linejoin: miter"/>
    </g>
    <g id="line2d_30">
     <path d="M 148.288912 53.632498 
L 156.618912 53.632498 
L 164.948912 53.632498 
" style="fill: none; stroke: #1f77b4; stroke-width: 1.5; stroke-linecap: square"/>
    </g>
    <g id="text_16">
     <text style="font-size: 8.33px; font-family: 'DejaVu Sans', 'Liberation Sans', sans-serif; text-anchor: start" x="172.279312" y="56.547998">0</text>
    </g>
    <g id="line2d_31">
     <path d="M 148.288912 67.158857 
L 156.618912 67.158857 
L 164.948912 67.158857 
" style="fill: none; stroke: #ff7f0e; stroke-width: 1.5; stroke-linecap: square"/>
    </g>
    <g id="text_17">
     <text style="font-size: 8.33px; font-family: 'DejaVu Sans', 'Liberation Sans', sans-serif; text-anchor: start" x="172.279312" y="70.074357">1</text>
    </g>
    <g id="line2d_32">
     <path d="M 148.288912 80.685215 
L 156.618912 80.685215 
L 164.948912 80.685215 
" style="fill: none; stroke: #2ca02c; stroke-width: 1.5; stroke-linecap: square"/>
    </g>
    <g id="text_18">
     <text style="font-size: 8.33px; font-family: 'DejaVu Sans', 'Liberation Sans', sans-serif; text-anchor: start" x="172.279312" y="83.600715">2</text>
    </g>
    <g id="line2d_33">
     <path d="M 148.288912 94.211573 
L 156.618912 94.211573 
L 164.948912 94.211573 
" style="fill: none; stroke: #d62728; stroke-width: 1.5; stroke-linecap: square"/>
    </g>
    <g id="text_19">
     <text style="font-size: 8.33px; font-family: 'DejaVu Sans', 'Liberation Sans', sans-serif; text-anchor: start" x="172.279312" y="97.127073">3</text>
    </g>
    <g id="line2d_34">
     <path d="M 193.572875 53.632498 
L 201.902875 53.632498 
L 210.232875 53.632498 
" style="fill: none; stroke: #9467bd; stroke-width: 1.5; stroke-linecap: square"/>
    </g>
    <g id="text_20">
     <text style="font-size: 8.33px; font-family: 'DejaVu Sans', 'Liberation Sans', sans-serif; text-anchor: start" x="217.563275" y="56.547998">4</text>
    </g>
    <g id="line2d_35">
     <path d="M 193.572875 67.158857 
L 201.902875 67.158857 
L 210.232875 67.158857 
" style="fill: none; stroke: #8c564b; stroke-width: 1.5; stroke-linecap: square"/>
    </g>
    <g id="text_21">
     <text style="font-size: 8.33px; font-family: 'DejaVu Sans', 'Liberation Sans', sans-serif; text-anchor: start" x="217.563275" y="70.074357">5</text>
    </g>
    <g id="line2d_36">
     <path d="M 193.572875 80.685215 
L 201.902875 80.685215 
L 210.232875 80.685215 
" style="fill: none; stroke: #e377c2; stroke-width: 1.5; stroke-linecap: square"/>
    </g>
    <g id="text_22">
     <text style="font-size: 8.33px; font-family: 'DejaVu Sans', 'Liberation Sans', sans-serif; text-anchor: start" x="217.563275" y="83.600715">6</text>
    </g>
    <g id="line2d_37">
     <path d="M 193.572875 94.211573 
L 201.902875 94.211573 
L 210.232875 94.211573 
" style="fill: none; stroke: #7f7f7f; stroke-width: 1.5; stroke-linecap: square"/>
    </g>
    <g id="text_23">
     <text style="font-size: 8.33px; font-family: 'DejaVu Sans', 'Liberation Sans', sans-serif; text-anchor: start" x="217.563275" y="97.127073">7</text>
    </g>
    <g id="line2d_38">
     <path d="M 238.856837 53.632498 
L 247.186837 53.632498 
L 255.516837 53.632498 
" style="fill: none; stroke-dasharray: 5.55,2.4; stroke-dashoffset: 0; stroke: #bcbd22; stroke-width: 1.5"/>
    </g>
    <g id="text_24">
     <text style="font-size: 8.33px; font-family: 'DejaVu Sans', 'Liberation Sans', sans-serif; text-anchor: start" x="262.847238" y="56.547998">8</text>
    </g>
    <g id="line2d_39">
     <path d="M 238.856837 67.158857 
L 247.186837 67.158857 
L 255.516837 67.158857 
" style="fill: none; stroke-dasharray: 5.55,2.4; stroke-dashoffset: 0; stroke: #17becf; stroke-width: 1.5"/>
    </g>
    <g id="text_25">
     <text style="font-size: 8.33px; font-family: 'DejaVu Sans', 'Liberation Sans', sans-serif; text-anchor: start" x="262.847238" y="70.074357">9</text>
    </g>
    <g id="line2d_40">
     <path d="M 238.856837 80.685215 
L 247.186837 80.685215 
L 255.516837 80.685215 
" style="fill: none; stroke-dasharray: 5.55,2.4; stroke-dashoffset: 0; stroke: #1f77b4; stroke-width: 1.5"/>
    </g>
    <g id="text_26">
     <text style="font-size: 8.33px; font-family: 'DejaVu Sans', 'Liberation Sans', sans-serif; text-anchor: start" x="262.847238" y="83.600715">10</text>
    </g>
    <g id="line2d_41">
     <path d="M 238.856837 94.211573 
L 247.186837 94.211573 
L 255.516837 94.211573 
" style="fill: none; stroke-dasharray: 5.55,2.4; stroke-dashoffset: 0; stroke: #ff7f0e; stroke-width: 1.5"/>
    </g>
    <g id="text_27">
     <text style="font-size: 8.33px; font-family: 'DejaVu Sans', 'Liberation Sans', sans-serif; text-anchor: start" x="262.847238" y="97.127073">11</text>
    </g>
    <g id="line2d_42">
     <path d="M 289.440763 53.632498 
L 297.770762 53.632498 
L 306.100763 53.632498 
" style="fill: none; stroke-dasharray: 5.55,2.4; stroke-dashoffset: 0; stroke: #2ca02c; stroke-width: 1.5"/>
    </g>
    <g id="text_28">
     <text style="font-size: 8.33px; font-family: 'DejaVu Sans', 'Liberation Sans', sans-serif; text-anchor: start" x="313.431163" y="56.547998">12</text>
    </g>
    <g id="line2d_43">
     <path d="M 289.440763 67.158857 
L 297.770762 67.158857 
L 306.100763 67.158857 
" style="fill: none; stroke-dasharray: 5.55,2.4; stroke-dashoffset: 0; stroke: #d62728; stroke-width: 1.5"/>
    </g>
    <g id="text_29">
     <text style="font-size: 8.33px; font-family: 'DejaVu Sans', 'Liberation Sans', sans-serif; text-anchor: start" x="313.431163" y="70.074357">13</text>
    </g>
    <g id="line2d_44">
     <path d="M 289.440763 80.685215 
L 297.770762 80.685215 
L 306.100763 80.685215 
" style="fill: none; stroke-dasharray: 5.55,2.4; stroke-dashoffset: 0; stroke: #9467bd; stroke-width: 1.5"/>
    </g>
    <g id="text_30">
     <text style="font-size: 8.33px; font-family: 'DejaVu Sans', 'Liberation Sans', sans-serif; text-anchor: start" x="313.431163" y="83.600715">14</text>
    </g>
    <g id="line2d_45">
     <path d="M 289.440763 94.211573 
L 297.770762 94.211573 
L 306.100763 94.211573 
" style="fill: none; stroke-dasharray: 5.55,2.4; stroke-dashoffset: 0; stroke: #8c564b; stroke-width: 1.5"/>
    </g>
    <g id="text_31">
     <text style="font-size: 8.33px; font-family: 'DejaVu Sans', 'Liberation Sans', sans-serif; text-anchor: start" x="313.431163" y="97.127073">15</text>
    </g>
   </g>
  </g>
  <g id="text_32">
   <text style="font-size: 12px; font-family: 'DejaVu Sans', 'Liberation Sans', sans-serif; text-anchor: middle" x="230.4" y="16.030125">Data file: modeM0/AS1C07_001T01_9000006450_50856cztM0_level2_quad_clean.evt</text>
  </g>
 </g>
 <defs>
  <clipPath id="p02d3b5d28d">
   <rect x="57.6" y="41.472" width="357.12" height="266.112"/>
  </clipPath>
 </defs>
</svg>

</body></html>
